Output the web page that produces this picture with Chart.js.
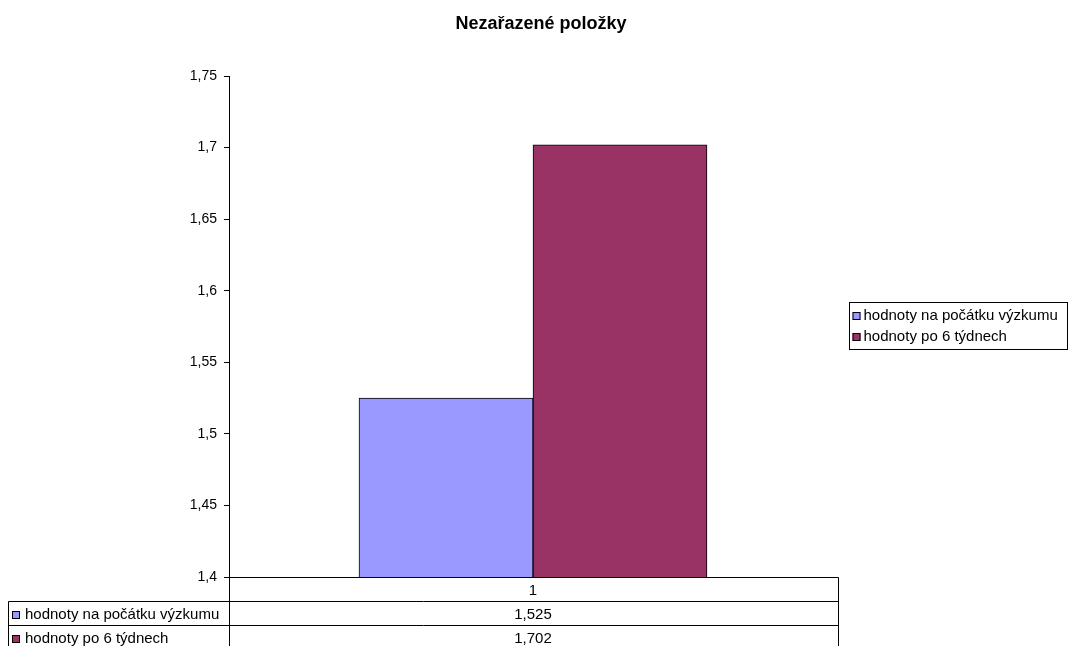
<!DOCTYPE html>
<html lang="cs">
<head>
<meta charset="utf-8">
<title>Nezařazené položky</title>
<script src="https://cdn.jsdelivr.net/npm/chart.js@4/dist/chart.umd.min.js"></script>
<style>
  html, body { margin: 0; padding: 0; background: #fff; }
  #wrap { width: 1070px; height: 646px; position: relative; }
</style>
</head>
<body>
<div id="wrap"><canvas id="chart"></canvas></div>
<script>
// ── data ──
const categories = ['1'];
const seriesNames = ['hodnoty na počátku výzkumu', 'hodnoty po 6 týdnech'];
const startValues = [1.525];
const after6Weeks = [1.702];
const seriesColors = ['#9999FF', '#993366'];
const yMin = 1.4, yMax = 1.75, yStep = 0.05;
const chartTitle = 'Nezařazené položky';

const FONT = "'Liberation Sans', Arial, sans-serif";
Chart.defaults.font.family = FONT;
Chart.defaults.font.size = 15;
Chart.defaults.color = '#000';

const fmt = v => String(+v.toFixed(3)).replace('.', ',');

// ── title, table under the plot, boxed legend on the right ──
const ROW_H = 24;
const TABLE_LEFT = 8;

function swatch(ctx, x, y, color) {
  ctx.fillStyle = color;
  ctx.fillRect(x, y - 4, 8, 8);
  ctx.strokeStyle = '#000';
  ctx.lineWidth = 1;
  ctx.strokeRect(x + 0.5, y - 3.5, 7, 7);
}

const extrasPlugin = {
  id: 'extras',
  afterDraw(chart) {
    const ctx = chart.ctx;
    const { left, right, bottom } = chart.chartArea;
    const xs = chart.scales.x;
    // table spans one px past the plot on the right
    const L = Math.round(left) + 0.5, R = Math.round(right) + 1.5, B = Math.round(bottom) + 0.5;
    ctx.save();

    // title
    ctx.font = `bold 18px ${FONT}`;
    ctx.fillStyle = '#000';
    ctx.textAlign = 'center';
    ctx.textBaseline = 'alphabetic';
    ctx.fillText(chartTitle, 541, 29);

    ctx.strokeStyle = '#000';
    ctx.lineWidth = 1;
    ctx.beginPath();
    // top edge / category axis
    ctx.moveTo(L, B); ctx.lineTo(R, B);
    // row separators
    for (let r = 1; r <= 2; r++) {
      ctx.moveTo(TABLE_LEFT + 0.5, B + r * ROW_H); ctx.lineTo(R, B + r * ROW_H);
    }
    // verticals
    ctx.moveTo(L, B); ctx.lineTo(L, chart.height);
    ctx.moveTo(R, B); ctx.lineTo(R, chart.height);
    ctx.moveTo(TABLE_LEFT + 0.5, B + ROW_H); ctx.lineTo(TABLE_LEFT + 0.5, chart.height);
    ctx.stroke();

    ctx.font = `15px ${FONT}`;
    ctx.fillStyle = '#000';
    ctx.textBaseline = 'middle';
    ctx.textAlign = 'center';
    categories.forEach((c, i) => {
      const cx = xs.getPixelForValue(i);
      ctx.fillText(c, cx, B + ROW_H / 2 + 1);
      chart.data.datasets.forEach((ds, di) => {
        ctx.fillText(fmt(ds.data[i]), cx, B + ROW_H * (di + 1.5) + 1);
      });
    });
    chart.data.datasets.forEach((ds, di) => {
      const cy = B + ROW_H * (di + 1.5) + 1;
      swatch(ctx, TABLE_LEFT + 4, Math.round(cy), ds.backgroundColor);
      ctx.fillStyle = '#000';
      ctx.textAlign = 'left';
      ctx.fillText(ds.label, TABLE_LEFT + 17, cy);
    });

    // legend box
    const lx = 849.5, ly = 302.5, lw = 218, lh = 47;
    ctx.strokeStyle = '#000';
    ctx.strokeRect(lx, ly, lw, lh);
    chart.data.datasets.forEach((ds, di) => {
      const cy = ly + 13.5 + di * 21;
      swatch(ctx, lx + 3, Math.round(cy), ds.backgroundColor);
      ctx.fillStyle = '#000';
      ctx.textAlign = 'left';
      ctx.fillText(ds.label, lx + 14, cy);
    });
    ctx.restore();
  },
};

const barStyle = {
  borderColor: '#000',
  borderWidth: 1,
  borderSkipped: false,
  barThickness: 174,
};

new Chart(document.getElementById('chart'), {
  type: 'bar',
  data: {
    labels: categories,
    datasets: [
      { label: seriesNames[0], data: startValues, backgroundColor: seriesColors[0], ...barStyle },
      { label: seriesNames[1], data: after6Weeks, backgroundColor: seriesColors[1], ...barStyle },
    ],
  },
  plugins: [extrasPlugin],
  options: {
    responsive: true,
    maintainAspectRatio: false,
    animation: false,
    layout: { padding: { left: 0, right: 233, top: 76, bottom: 69 } },
    plugins: {
      legend: { display: false },
      tooltip: { enabled: false },
      title: { display: false },
    },
    scales: {
      x: { display: false },
      y: {
        min: yMin,
        max: yMax,
        afterFit(scale) { scale.width = 229; },
        grid: { drawOnChartArea: false, drawTicks: true, tickLength: 5, color: '#000' },
        border: { color: '#000' },
        ticks: {
          stepSize: yStep,
          padding: 7,
          color: '#000',
          font: { size: 14 },
          callback: v => fmt(v),
        },
      },
    },
  },
});
</script>
</body>
</html>
